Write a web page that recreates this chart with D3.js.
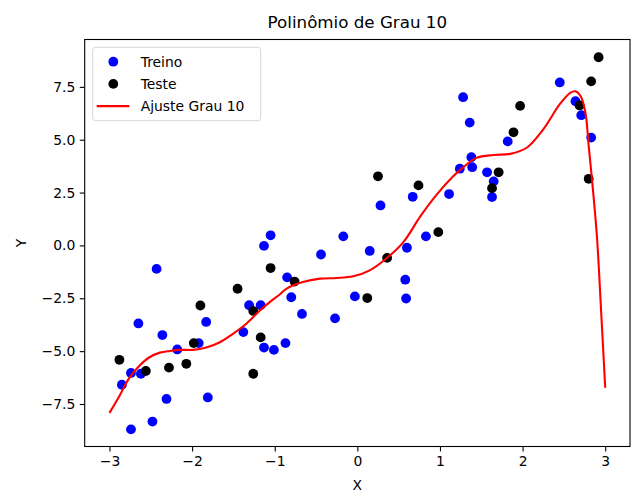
<!DOCTYPE html>
<html>
<head>
<meta charset="utf-8">
<script src="https://cdn.jsdelivr.net/npm/d3@7"></script>
<style>
  body { margin: 0; background: #fff; }
  svg { display: block; font-family: "DejaVu Sans", sans-serif; }
</style>
</head>
<body>
<svg id="chart"></svg>
<script>
// training points (blue)
var trainX = [-2.85,-2.74,-2.62,-2.74,-2.65,-2.48,-2.43,-2.36,-2.31,-2.18,-1.92,-1.83,-1.81,-1.38,-1.31,-1.17,-1.13,-1.13,-1.05,-1.01,-0.87,-0.85,-0.80,-0.67,-0.44,-0.27,-0.17,-0.03,0.15,0.28,0.58,0.59,0.60,0.67,0.83,1.11,1.24,1.28,1.36,1.38,1.39,1.57,1.63,1.65,1.82,2.45,2.64,2.71,2.83]
var trainY = [-6.59,-6.03,-6.07,-8.70,-3.69,-8.33,-1.11,-4.24,-7.26,-4.92,-4.62,-3.62,-7.19,-4.10,-2.83,-2.83,-0.02,-4.83,0.48,-4.94,-4.62,-1.51,-2.45,-3.24,-0.43,-3.45,0.43,-2.41,-0.26,1.89,-1.62,-2.51,-0.11,2.30,0.43,2.43,3.63,7.01,5.81,4.17,3.70,3.46,2.29,3.03,4.92,7.71,6.82,6.16,5.10]

// test points (black)
var testX = [-2.88,-2.56,-2.28,-2.07,-1.98,-1.90,-1.45,-1.26,-1.26,-1.17,-1.05,-0.76,0.12,0.25,0.36,0.74,0.98,1.63,1.71,1.89,1.97,2.69,2.80,2.83,2.92]
var testY = [-5.41,-5.94,-5.78,-5.60,-4.62,-2.84,-2.05,-6.07,-3.10,-4.35,-1.07,-1.71,-2.49,3.27,-0.59,2.84,0.63,2.71,3.46,5.35,6.60,6.62,3.15,7.76,8.90]

// degree 10 fit
var fitX = [-3.00,-2.88,-2.76,-2.64,-2.52,-2.39,-2.27,-2.15,-1.99,-1.83,-1.67,-1.51,-1.34,-1.18,-1.06,-0.94,-0.86,-0.66,-0.45,-0.25,-0.05,0.15,0.35,0.56,0.76,0.96,1.16,1.26,1.44,1.65,1.85,2.05,2.25,2.45,2.58,2.64,2.70,2.76,2.80,2.84,2.90,2.95,3.00]
var fitY = [-7.92,-7.12,-6.26,-5.70,-5.30,-5.07,-4.99,-4.94,-4.94,-4.83,-4.59,-4.19,-3.69,-3.08,-2.68,-2.32,-2.05,-1.73,-1.57,-1.54,-1.46,-1.18,-0.62,0.17,1.36,2.40,3.27,3.62,4.14,4.28,4.33,4.62,5.49,6.68,7.23,7.29,7.08,6.29,4.70,3.11,0.41,-3.08,-6.73]

var xTicks = [-3,-2,-1,0,1,2,3]
var yTicks = [-7.5,-5.0,-2.5,0.0,2.5,5.0,7.5]

var W = 635, H = 501
var margin = {top: 39.5, right: 5, bottom: 54.5, left: 84.7},
    width  = W - margin.left - margin.right,
    height = H - margin.top - margin.bottom;

var x = d3.scaleLinear().domain([-3.3, 3.3]).range([0, width]);
var y = d3.scaleLinear().domain([-9.51, 9.74]).range([height, 0]);

var svg = d3.select("#chart").attr("width", W).attr("height", H)
var g = svg.append("g")
    .attr("transform", "translate(" + margin.left + "," + margin.top + ")");

// axes
var xAxis = g.append("g")
    .attr("transform", "translate(0," + height + ")")
    .call(d3.axisBottom(x).tickValues(xTicks).tickSize(4.9).tickPadding(4.5).tickFormat(d3.format("d")));
var yAxis = g.append("g")
    .call(d3.axisLeft(y).tickValues(yTicks).tickSize(4.9).tickPadding(4.5).tickFormat(d3.format(".1f")));

[xAxis, yAxis].forEach(function(a) {
  a.selectAll("path").remove()
  a.selectAll("line").attr("stroke", "#000").attr("stroke-width", 1.1)
  a.selectAll("text").attr("fill", "#000").style("font-size", "13.9px").style("font-family", "DejaVu Sans")
})

// frame
g.append("rect")
  .attr("width", width).attr("height", height)
  .attr("fill", "none").attr("stroke", "#000").attr("stroke-width", 1.1)

// clip for data
svg.append("clipPath").attr("id", "clip").append("rect").attr("width", width).attr("height", height)
var plot = g.append("g").attr("clip-path", "url(#clip)")

plot.selectAll(".train")
    .data(d3.range(trainX.length))
  .enter().append("circle")
    .attr("cx", function(i) { return x(trainX[i]); })
    .attr("cy", function(i) { return y(trainY[i]); })
    .attr("r", 4.9)
    .attr("fill", "#0000ff");

plot.selectAll(".test")
    .data(d3.range(testX.length))
  .enter().append("circle")
    .attr("cx", function(i) { return x(testX[i]); })
    .attr("cy", function(i) { return y(testY[i]); })
    .attr("r", 4.9)
    .attr("fill", "#000");

var line = d3.line()
    .x(function(i) { return x(fitX[i]); })
    .y(function(i) { return y(fitY[i]); })
    .curve(d3.curveCatmullRom.alpha(0.5));

plot.append("path")
    .datum(d3.range(fitX.length))
    .attr("d", line)
    .attr("fill", "none")
    .attr("stroke", "#ff0000")
    .attr("stroke-width", 2.1);

// title and labels
svg.append("text")
    .attr("x", margin.left + width / 2)
    .attr("y", 28)
    .attr("text-anchor", "middle")
    .style("font-size", "16.7px")
    .text("Polinômio de Grau 10");

svg.append("text")
    .attr("x", margin.left + width / 2)
    .attr("y", 490)
    .attr("text-anchor", "middle")
    .style("font-size", "13.9px")
    .text("X");

svg.append("text")
    .attr("transform", "rotate(-90)")
    .attr("x", -(margin.top + height / 2))
    .attr("y", 25.5)
    .attr("text-anchor", "middle")
    .style("font-size", "13.9px")
    .text("Y");

// legend
var leg = svg.append("g").attr("transform", "translate(92.7,47.3)")
leg.append("rect")
    .attr("width", 168).attr("height", 73.4)
    .attr("rx", 3).attr("ry", 3)
    .attr("fill", "#fff").attr("fill-opacity", 0.8)
    .attr("stroke", "#d6d6d6").attr("stroke-width", 1);

var items = [
  {label: "Treino", kind: "dot", color: "#0000ff"},
  {label: "Teste", kind: "dot", color: "#000"},
  {label: "Ajuste Grau 10", kind: "line", color: "#ff0000"}
]
items.forEach(function(it, k) {
  var cy = 14.4 + k * 22.2
  if (it.kind === "dot") {
    leg.append("circle").attr("cx", 20.6).attr("cy", cy).attr("r", 4.9).attr("fill", it.color)
  } else {
    leg.append("line").attr("x1", 4).attr("x2", 36.6).attr("y1", cy).attr("y2", cy)
      .attr("stroke", it.color).attr("stroke-width", 2.1)
  }
  leg.append("text").attr("x", 48).attr("y", cy).attr("dy", "0.35em")
    .style("font-size", "13.9px").text(it.label)
})
</script>
</body>
</html>
